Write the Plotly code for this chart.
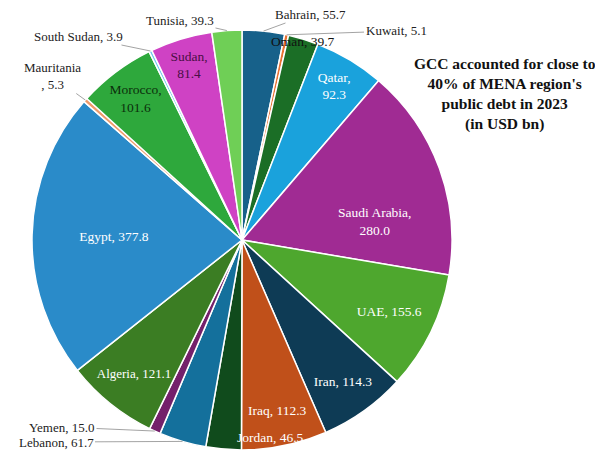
import numpy as np
import plotly.graph_objects as go

# page has an 8px body margin, so the figure is drawn slightly smaller and offset
OFF = 8
W, H = 603 - OFF, 451 - OFF

countries = ["Bahrain", "Kuwait", "Oman", "Qatar", "Saudi Arabia", "UAE", "Iran", "Iraq",
             "Jordan", "Lebanon", "Yemen", "Algeria", "Egypt", "Mauritania", "Morocco",
             "South Sudan", "Sudan", "Tunisia"]
debt = [55.7, 5.1, 39.7, 92.3, 280.0, 155.6, 114.3, 112.3,
        46.5, 61.7, 15.0, 121.1, 377.8, 5.3, 101.6, 3.9, 81.4, 39.3]
colors = ["#17618a", "#e97132", "#1b6e26", "#1aa2dc", "#a02b93", "#4ea72e", "#0e3b55", "#c0501a",
          "#104b1c", "#14709c", "#74206b", "#3b7d23", "#2a8bc9", "#ee9a6a", "#2ea83c",
          "#6cc8ee", "#cf42c4", "#6fcf56"]

# labels drawn inside the pie, with own line breaks / colours
inside_text = {
    "Qatar": ("Qatar,<br>92.3", "white"),
    "UAE": ("UAE, 155.6", "white"),
    "Iran": ("Iran, 114.3", "white"),
    "Iraq": ("Iraq, 112.3", "white"),
    "Algeria": ("Algeria, 121.1", "white"),
    "Egypt": ("Egypt, 377.8", "white"),
    "Morocco": ("Morocco,<br>101.6", "#0b2e0b"),
    "Sudan": ("Sudan,<br>81.4", "#4a0f45"),
}

# labels placed around the pie with leader lines (label position in window px)
outside_labels = {
    "Tunisia": ("Tunisia, 39.3", 180, 20),
    "Bahrain": ("Bahrain, 55.7", 310, 14),
    "Kuwait": ("Kuwait, 5.1", 396, 31),
    "South Sudan": ("South Sudan, 3.9", 78, 36),
    "Mauritania": ("Mauritania<br>, 5.3", 52, 76),
    "Yemen": ("Yemen, 15.0", 62, 427),
    "Lebanon": ("Lebanon, 61.7", 56, 442),
}
floating_labels = {
    "Oman": ("Oman, 39.7", 303, 41, "#111111"),
    "Saudi Arabia": ("Saudi Arabia,<br>280.0", 375, 222, "white"),
    "Jordan": ("Jordan, 46.5", 270, 437, "white"),
}

cx, cy, R = 242, 240, 210
serif = "Liberation Serif, Times New Roman, serif"


def px(x):
    return (x - OFF) / W


def py(y):
    return 1 - (y - OFF) / H


texts = [inside_text.get(c, ("", "white"))[0] for c in countries]
tcols = [inside_text.get(c, ("", "white"))[1] for c in countries]

fig = go.Figure(go.Pie(
    labels=countries, values=debt, text=texts, textinfo="text",
    textposition="inside", insidetextorientation="horizontal",
    sort=False, direction="clockwise", rotation=0,
    marker=dict(colors=colors, line=dict(color="white", width=1.5)),
    insidetextfont=dict(family=serif, size=13.5, color=tcols),
    domain=dict(x=[px(cx - R), px(cx + R)], y=[py(cy + R), min(1, py(cy - R))]),
    showlegend=False, hoverinfo="label+value",
))

total = sum(debt)
cum = np.cumsum([0] + debt)
anns = []
for i, c in enumerate(countries):
    if c in outside_labels:
        txt, lx, ly = outside_labels[c]
        theta = np.radians((cum[i] + debt[i] / 2) / total * 360)
        ex = cx + R * np.sin(theta)
        ey = cy - R * np.cos(theta)
        anns.append(dict(
            x=px(ex), y=py(ey), xref="paper", yref="paper",
            ax=lx - ex, ay=ly - ey, text=txt, showarrow=True, arrowhead=0,
            arrowwidth=0.8, arrowcolor="#8c8c8c",
            font=dict(family=serif, size=13, color="#222222"),
        ))
    if c in floating_labels:
        txt, lx, ly, col = floating_labels[c]
        anns.append(dict(
            x=px(lx), y=py(ly), xref="paper", yref="paper", showarrow=False,
            xanchor="center", yanchor="middle",
            text=txt, font=dict(family=serif, size=13.5, color=col),
        ))

anns.append(dict(
    x=px(505), y=py(94), xref="paper", yref="paper", showarrow=False,
    xanchor="center", yanchor="middle",
    text="<b>GCC accounted for close to<br>40% of MENA region's<br>public debt in 2023<br>(in USD bn)</b>",
    align="center", font=dict(family=serif, size=15.5, color="#111111"),
))

fig.update_layout(
    width=W, height=H, margin=dict(l=0, r=0, t=0, b=0),
    paper_bgcolor="white", plot_bgcolor="white",
    annotations=anns,
)

fig.write_html("out.html")
